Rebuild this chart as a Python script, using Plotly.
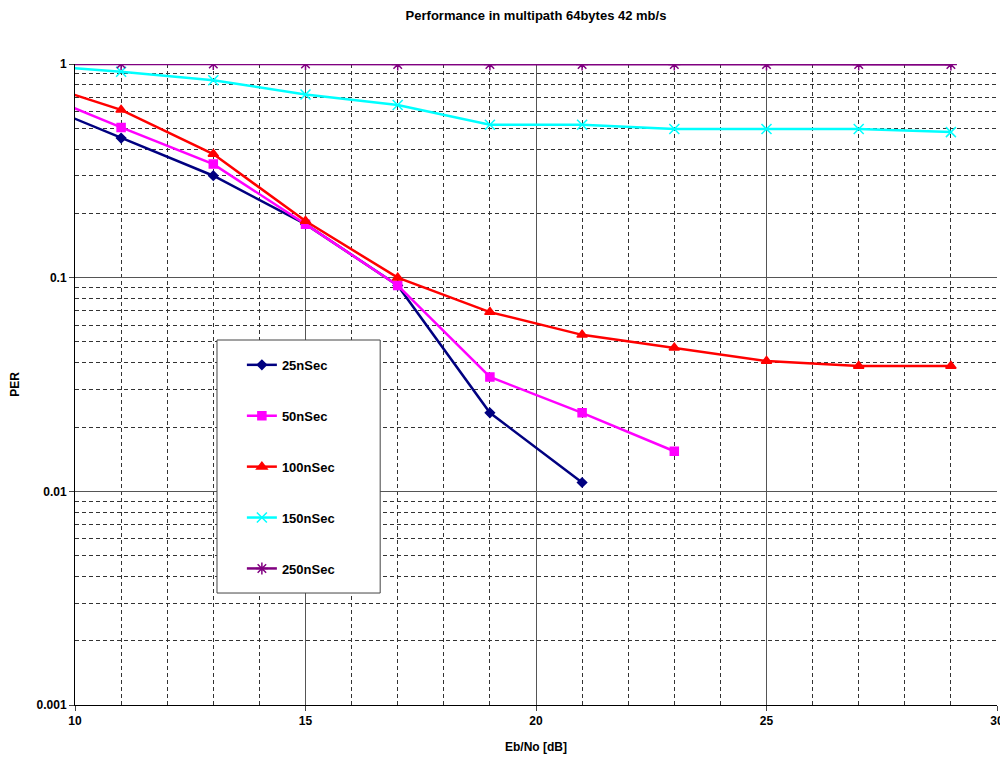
import plotly.graph_objects as go

# Data. x=9 points lie outside the visible range so the
# lines enter the plot from the left edge as in the original.
x_25 = [9, 11, 13, 15, 17, 19, 21]
y_25 = [0.68, 0.45, 0.30, 0.178, 0.092, 0.0233, 0.011]

x_50 = [9, 11, 13, 15, 17, 19, 21, 23]
y_50 = [0.76, 0.505, 0.34, 0.178, 0.092, 0.0343, 0.0233, 0.0154]

x_100 = [9, 11, 13, 15, 17, 19, 21, 23, 25, 27, 29]
y_100 = [0.84, 0.61, 0.379, 0.184, 0.100, 0.069, 0.054, 0.047, 0.0407, 0.0386, 0.0386]

x_150 = [9, 11, 13, 15, 17, 19, 21, 23, 25, 27, 29]
y_150 = [0.99, 0.92, 0.84, 0.72, 0.643, 0.52, 0.52, 0.496, 0.496, 0.496, 0.48]

x_250 = [9, 11, 13, 15, 17, 19, 21, 23, 25, 27, 29]
y_250 = [1.0, 1.0, 1.0, 1.0, 0.995, 0.995, 0.995, 0.995, 0.995, 0.995, 0.995]

names = ["25nSec", "50nSec", "100nSec", "150nSec", "250nSec"]
colors = ["#000080", "#FF00FF", "#FF0000", "#00FFFF", "#800080"]
symbols = ["diamond", "square", "triangle-up", "x-thin-open", "asterisk-open"]
sizes = [7, 8, 9, 10, 10]
xs = [x_25, x_50, x_100, x_150, x_250]
ys = [y_25, y_50, y_100, y_150, y_250]

x_major = [10, 15, 20, 25, 30]
x_minor = [v for v in range(10, 31) if v not in x_major]
y_major = [0.001, 0.01, 0.1, 1]
y_major_text = ["0.001", "0.01", "0.1", "1"]
y_minor = [m * d for d in [0.001, 0.01, 0.1] for m in range(2, 10)]

FONT = "Arial, Liberation Sans, sans-serif"

fig = go.Figure()
for i in range(5):
    fig.add_trace(go.Scatter(
        x=xs[i], y=ys[i], name=names[i], mode="lines+markers",
        legendgroup=names[i],
        line=dict(color=colors[i], width=2.5),
        marker=dict(symbol=symbols[i], size=sizes[i], color=colors[i],
                    line=dict(color=colors[i], width=1.5)),
    ))

fig.update_layout(
    width=1000, height=757,
    paper_bgcolor="white", plot_bgcolor="white",
    margin=dict(l=67, r=11, t=56, b=60),
    font=dict(family=FONT, size=12, color="black", weight="bold"),
    title=dict(text="Performance in multipath 64bytes 42 mb/s", x=0.5, xref="paper",
               y=0.9895, yref="container", yanchor="middle",
               font=dict(size=13, family=FONT, weight="bold")),
    legend=dict(x=0.181, y=0.554, xanchor="left", yanchor="top",
                borderwidth=0, bgcolor="rgba(0,0,0,0)",
                tracegroupgap=31, font=dict(size=13, family=FONT, weight="bold"),
                entrywidth=100),
    showlegend=True,
    shapes=[dict(type="rect", xref="paper", yref="paper",
                 x0=0.154, x1=0.331, y0=0.1747, y1=0.5694,
                 line=dict(color="#444444", width=1), fillcolor="white",
                 layer="above")],
    annotations=[
        dict(text="Eb/No [dB]", x=0.5, xref="paper", y=-0.065, yref="paper",
             yanchor="middle", showarrow=False, font=dict(size=12, weight="bold")),
        dict(text="PER", x=-0.066, xref="paper", y=0.5, yref="paper",
             xanchor="center", textangle=-90, showarrow=False,
             font=dict(size=12, weight="bold")),
    ],
)

fig.update_xaxes(
    range=[10, 30], tickvals=x_major, ticks="outside", ticklen=5, automargin=False,
    showline=True, linecolor="black", linewidth=1, mirror=False,
    showgrid=True, gridcolor="#555555", gridwidth=1.3, zeroline=False,
    minor=dict(tickvals=x_minor, showgrid=True, gridcolor="#333333",
               griddash="4px,3px", gridwidth=0.8, ticks=""),
    tickfont=dict(size=12, weight="bold"),
)
fig.update_yaxes(
    type="log", range=[-3, 0], tickvals=y_major, ticktext=y_major_text,
    ticks="outside", ticklen=5, automargin=False,
    showline=True, linecolor="black", linewidth=1,
    showgrid=True, gridcolor="#555555", gridwidth=1.3, zeroline=False,
    minor=dict(tickvals=y_minor, showgrid=True, gridcolor="#333333",
               griddash="4px,3px", gridwidth=0.8, ticks=""),
    tickfont=dict(size=12, weight="bold"),
)

fig.write_html("out.html")
